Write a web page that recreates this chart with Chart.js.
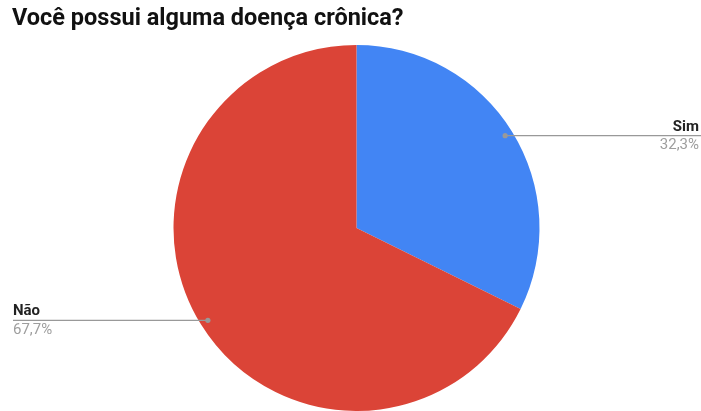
<!DOCTYPE html>
<html>
<head>
<meta charset="utf-8">
<script src="https://cdn.jsdelivr.net/npm/chart.js@4"></script>
<style>
  body { margin: 0; background: #fff; }
  canvas { display: block; }
</style>
</head>
<body>
<canvas id="myChart" width="701" height="411"></canvas>
<script>
// chart data
var titleText = 'Você possui alguma doença crônica?';
var categories = ['Sim', 'Não'];
var percents = [32.3, 67.7];
var sliceColors = ['#4285f4', '#db4437'];

// leader lines + labels, like the google charts export
var leaderLabels = {
  id: 'leaderLabels',
  afterDatasetsDraw: function (chart) {
    var ctx = chart.ctx;
    var meta = chart.getDatasetMeta(0);
    var W = chart.width;
    meta.data.forEach(function (arc, i) {
      var mid = (arc.startAngle + arc.endAngle) / 2;
      var r = arc.outerRadius - 8;
      var px = arc.x + Math.cos(mid) * r;
      var py = arc.y + Math.sin(mid) * r;
      var right = Math.cos(mid) > 0;
      var pct = percents[i].toFixed(1).replace('.', ',') + '%';

      ctx.save();
      ctx.strokeStyle = '#999999';
      ctx.lineWidth = 1.3;
      ctx.beginPath();
      if (right) {
        ctx.moveTo(px, py);
        ctx.lineTo(W, py);
      } else {
        ctx.moveTo(13, py);
        ctx.lineTo(px, py);
      }
      ctx.stroke();
      ctx.fillStyle = '#999999';
      ctx.beginPath();
      ctx.arc(px, py, 2.6, 0, Math.PI * 2);
      ctx.fill();

      ctx.textAlign = right ? 'right' : 'left';
      var tx = right ? W - 2 : 13;
      ctx.textBaseline = 'alphabetic';
      ctx.font = 'bold 15px Roboto';
      ctx.fillStyle = '#222222';
      ctx.fillText(categories[i], tx, py - 5);
      ctx.font = '15px Roboto';
      ctx.fillStyle = '#9e9e9e';
      ctx.fillText(pct, tx, py + 13.5);
      ctx.restore();
    });
  }
};

var ctx = document.getElementById('myChart').getContext('2d');
var myChart = new Chart(ctx, {
  type: 'pie',
  data: {
    labels: categories,
    datasets: [{
      data: percents,
      backgroundColor: sliceColors,
      borderWidth: 0
    }]
  },
  options: {
    responsive: false,
    animation: false,
    layout: {
      padding: { left: 12, right: 0, top: 0, bottom: 0 }
    },
    plugins: {
      legend: { display: false },
      tooltip: { enabled: false },
      title: {
        display: true,
        text: titleText,
        align: 'start',
        color: '#111111',
        font: { family: 'Roboto', size: 23.5, weight: 'bold' },
        padding: { top: 5, bottom: 11.8 }
      }
    }
  },
  plugins: [leaderLabels]
});
</script>
</body>
</html>
